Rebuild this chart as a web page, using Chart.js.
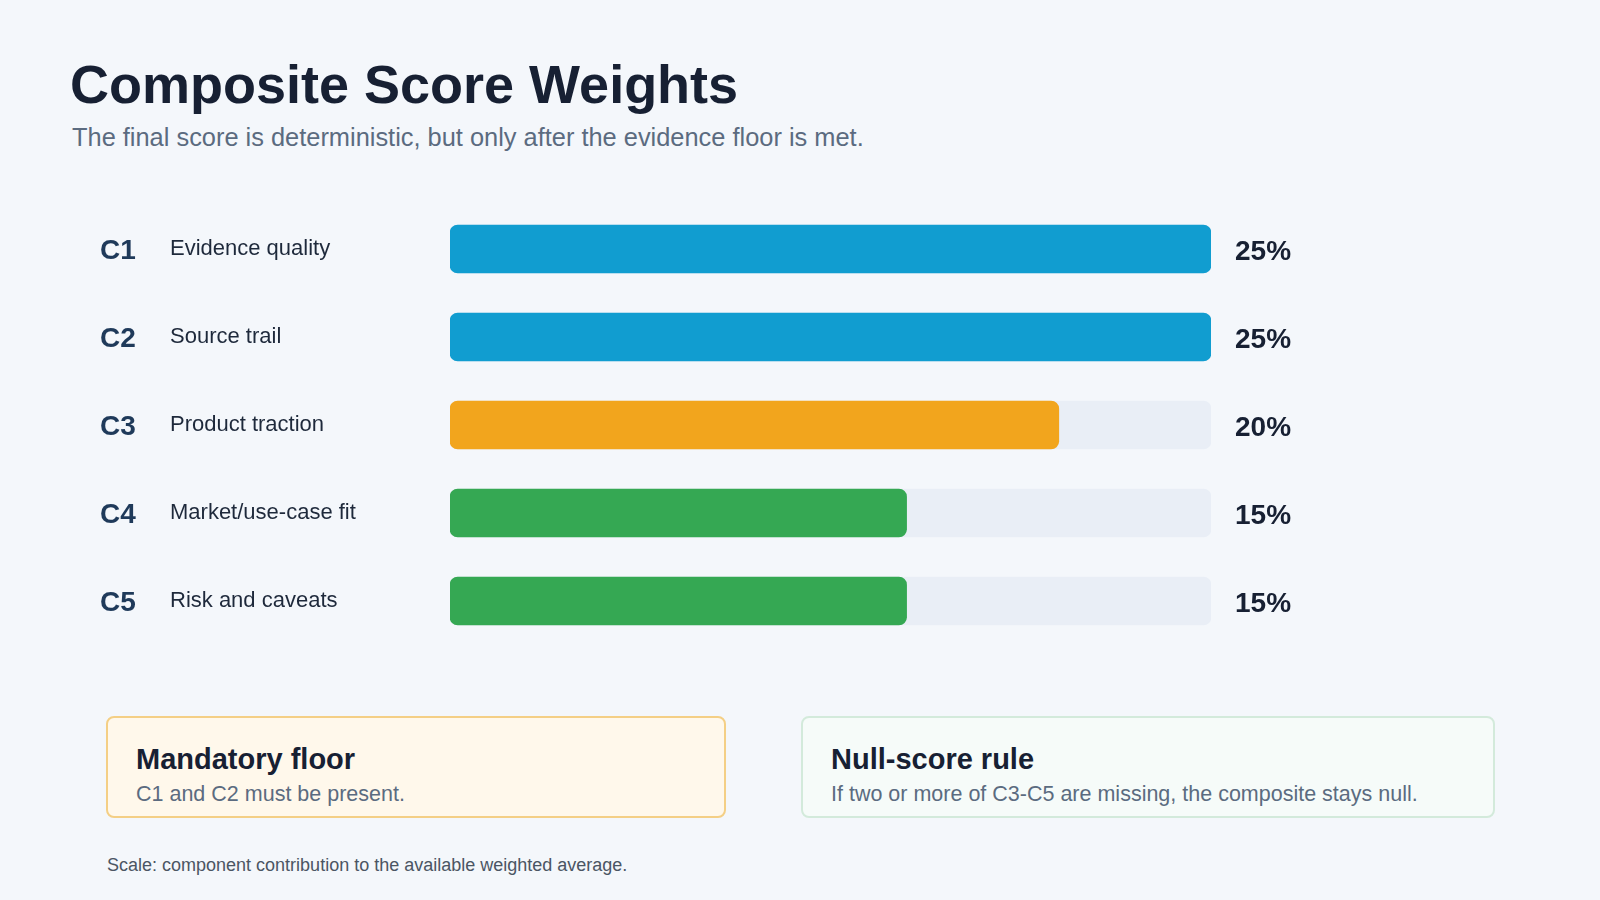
<!DOCTYPE html>
<html>
<head>
<meta charset="utf-8">
<title>Composite Score Weights</title>
<script src="https://cdn.jsdelivr.net/npm/chart.js@4.4.1/dist/chart.umd.min.js"></script>
<style>
  html, body { margin: 0; padding: 0; }
  body {
    width: 1600px; height: 900px; overflow: hidden; position: relative;
    background: #f4f7fb; font-family: "Liberation Sans", Arial, sans-serif;
  }
  h1 {
    position: absolute; left: 70px; top: 51px; margin: 0;
    font-size: 54px; font-weight: 700; color: #172033; line-height: 66px;
  }
  .sub {
    position: absolute; left: 72px; top: 123px; margin: 0;
    font-size: 25.4px; color: #5b6b80;
  }
  #chartWrap { position: absolute; left: 0; top: 180px; width: 1600px; height: 490px; }
  .box {
    position: absolute; top: 716px; height: 102px; box-sizing: border-box;
    border-radius: 8px; padding: 23px 28px;
  }
  .box h3 { margin: 0; font-size: 29px; font-weight: 700; color: #172033; line-height: 36px; }
  .box p { margin: 5px 0 0; font-size: 21.5px; color: #5b6b80; }
  #floor { left: 106px; width: 620px; background: #fff8eb; border: 2px solid #f4cf85; }
  #nullrule { left: 801px; width: 694px; background: #f6fbf9; border: 2px solid #d3eadb; }
  .note { position: absolute; left: 107px; top: 855px; font-size: 18px; color: #4b5563; }
</style>
</head>
<body>
  <h1>Composite Score Weights</h1>
  <p class="sub">The final score is deterministic, but only after the evidence floor is met.</p>

  <div id="chartWrap"><canvas id="weightsChart"></canvas></div>

  <div class="box" id="floor">
    <h3>Mandatory floor</h3>
    <p>C1 and C2 must be present.</p>
  </div>
  <div class="box" id="nullrule">
    <h3>Null-score rule</h3>
    <p>If two or more of C3-C5 are missing, the composite stays null.</p>
  </div>
  <div class="note">Scale: component contribution to the available weighted average.</div>

<script>
  // chart data
  const codes = ['C1', 'C2', 'C3', 'C4', 'C5'];
  const names = ['Evidence quality', 'Source trail', 'Product traction', 'Market/use-case fit', 'Risk and caveats'];
  const weights = [25, 25, 20, 15, 15];
  const maxWeight = 25;
  const barColors = ['#119dd0', '#119dd0', '#f2a51d', '#35a853', '#35a853'];

  // draws the code + name on the left and the percent on the right of each row
  const rowLabels = {
    id: 'rowLabels',
    afterDatasetsDraw(chart) {
      const ctx = chart.ctx;
      const yScale = chart.scales.y;
      const right = chart.chartArea.right;
      ctx.save();
      ctx.textBaseline = 'middle';
      ctx.textAlign = 'left';
      codes.forEach((code, i) => {
        const y = yScale.getPixelForValue(i);
        ctx.font = 'bold 28px "Liberation Sans", Arial, sans-serif';
        ctx.fillStyle = '#1f3a5a';
        ctx.fillText(code, 100, y + 2);
        ctx.font = '22px "Liberation Sans", Arial, sans-serif';
        ctx.fillStyle = '#1e293b';
        ctx.fillText(names[i], 170, y);
        ctx.font = 'bold 28px "Liberation Sans", Arial, sans-serif';
        ctx.fillStyle = '#172033';
        ctx.fillText(weights[i] + '%', right + 24, y + 3);
      });
      ctx.restore();
    }
  };

  new Chart(document.getElementById('weightsChart'), {
    type: 'bar',
    data: {
      labels: codes,
      datasets: [
        {
          label: 'Weight',
          data: weights,
          backgroundColor: barColors,
          borderRadius: 8,
          borderSkipped: false,
          barThickness: 48,
          grouped: false
        },
        {
          label: 'Track',
          data: codes.map(() => maxWeight),
          backgroundColor: '#e9eef6',
          borderRadius: 8,
          borderSkipped: false,
          barThickness: 48,
          grouped: false
        }
      ]
    },
    options: {
      indexAxis: 'y',
      responsive: true,
      maintainAspectRatio: false,
      animation: false,
      layout: { padding: { left: 450, right: 389, top: 25, bottom: 25 } },
      plugins: { legend: { display: false }, tooltip: { enabled: false } },
      scales: {
        x: { display: false, min: 0, max: maxWeight },
        y: { display: false }
      }
    },
    plugins: [rowLabels]
  });
</script>
</body>
</html>
